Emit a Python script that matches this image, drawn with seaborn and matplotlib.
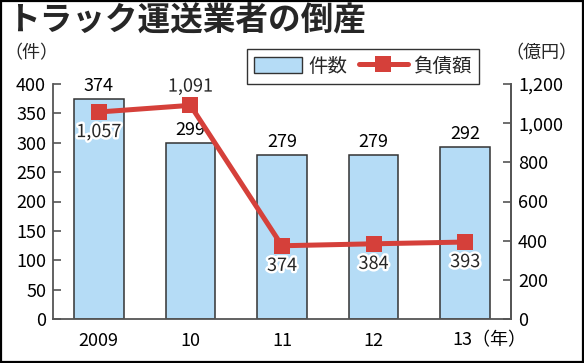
import matplotlib
matplotlib.use("Agg")
import matplotlib.pyplot as plt
import matplotlib.patheffects as pe
import matplotlib.transforms as mtransforms
from matplotlib.patches import Rectangle, Patch
from matplotlib.lines import Line2D
from matplotlib.ticker import FuncFormatter, MultipleLocator
import seaborn as sns
import pandas as pd
import numpy as np

years = ["2009", "10", "11", "12", "13"]
counts = [374, 299, 279, 279, 292]
debts = [1057, 1091, 374, 384, 393]
debt_label_pos = ["below", "above", "below", "below", "below"]

title = "トラック運送業者の倒産"
left_unit = "（件）"
right_unit = "（億円）"
year_unit = "（年）"
legend_labels = ["件数", "負債額"]

sns.set_theme(style="white")
FONT = ["Noto Sans CJK JP", "DejaVu Sans"]
plt.rcParams["font.family"] = FONT

BAR_COLOR = "#b5dcf6"
EDGE = "#333333"
RED = "#d5403a"
SPINE = "#555555"

fig = plt.figure(figsize=(5.84, 3.63), dpi=100)
W, H = 584, 363
ax = fig.add_axes([53 / W, 1 - 319 / H, (511 - 53) / W, (319 - 84) / H])

df = pd.DataFrame({"year": years, "count": counts, "debt": debts})
sns.barplot(data=df, x="year", y="count", ax=ax, color=BAR_COLOR,
            edgecolor=EDGE, linewidth=1.1, width=0.54, saturation=1)
ax.set_xlim(-0.5, 4.5)
ax.set_ylim(0, 400)
ax.yaxis.set_major_locator(MultipleLocator(50))
ax.set_xlabel("")
ax.set_ylabel("")

ax2 = ax.twinx()
sns.lineplot(x=np.arange(len(years)), y=debts, ax=ax2, color=RED,
             linewidth=3.6, marker="s", markersize=11, markeredgewidth=0,
             markerfacecolor=RED)
ax2.set_ylim(0, 1200)
ax2.yaxis.set_major_locator(MultipleLocator(200))
ax2.yaxis.set_major_formatter(FuncFormatter(lambda v, p: f"{int(v):,}"))
ax2.set_ylabel("")
ax.set_xlim(-0.5, 4.5)

for a in (ax, ax2):
    a.spines["top"].set_visible(False)
    for s in ("left", "right", "bottom"):
        a.spines[s].set_color(SPINE)
        a.spines[s].set_linewidth(1.3)
    a.grid(False)

ax.tick_params(axis="y", direction="in", length=6, width=1.2, color=SPINE,
               labelsize=13, labelcolor="black", pad=5)
ax.tick_params(axis="x", length=0, labelsize=13, labelcolor="black", pad=9)
ax2.tick_params(axis="y", direction="in", length=6, width=1.2, color=SPINE,
                labelsize=13, labelcolor="black", pad=5)
ax2.spines["left"].set_visible(False)
ax2.spines["bottom"].set_visible(False)

# last x tick label carries the year unit; shift so that "13" sits under the bar
ax.set_xticks(range(len(years)))
xlabels = list(years)
xlabels[-1] = years[-1] + year_unit
ax.set_xticklabels(xlabels)
last = ax.get_xticklabels()[-1]
last.set_transform(last.get_transform() +
                   mtransforms.ScaledTranslation(24 / 100, 0, fig.dpi_scale_trans))

halo = [pe.withStroke(linewidth=3.5, foreground="white")]

# bar labels
for i, c in enumerate(counts):
    ax.annotate(f"{c}", (i, c), xytext=(0, 3), textcoords="offset points",
                ha="center", va="bottom", fontsize=13, color="black")

# line labels
for i, (d, pos) in enumerate(zip(debts, debt_label_pos)):
    if pos == "above":
        ax2.annotate(f"{d:,}", (i, d), xytext=(0, 7), textcoords="offset points",
                     ha="center", va="bottom", fontsize=13, path_effects=halo)
    else:
        ax2.annotate(f"{d:,}", (i, d), xytext=(0, -8), textcoords="offset points",
                     ha="center", va="top", fontsize=13, path_effects=halo)

# title and unit labels
fig.text(7 / W, 1 - 4 / H, title, fontsize=23.5, fontweight="bold",
         ha="left", va="top")
fig.text(4 / W, 1 - 44 / H, left_unit, fontsize=13, ha="left", va="top")
fig.text(505 / W, 1 - 44 / H, right_unit, fontsize=13, ha="left", va="top")

handles = [Patch(facecolor=BAR_COLOR, edgecolor=EDGE, linewidth=1.0),
           Line2D([0], [0], color=RED, linewidth=3.6, marker="s",
                  markersize=11, markeredgewidth=0)]
leg = fig.legend(handles, legend_labels, loc="upper left",
                 bbox_to_anchor=(247 / W, 1 - 49 / H), ncol=2,
                 fontsize=14, frameon=True, fancybox=False,
                 handlelength=2.5, handleheight=0.9, columnspacing=0.6,
                 handletextpad=0.3, borderpad=0.35, borderaxespad=0)
leg.get_frame().set_edgecolor("black")
leg.get_frame().set_linewidth(1.0)

fig.patches.append(Rectangle((0.002, 0.003), 0.996, 0.994, transform=fig.transFigure,
                             fill=False, edgecolor="black", linewidth=1.6))

fig.savefig("out.png", dpi=100)
